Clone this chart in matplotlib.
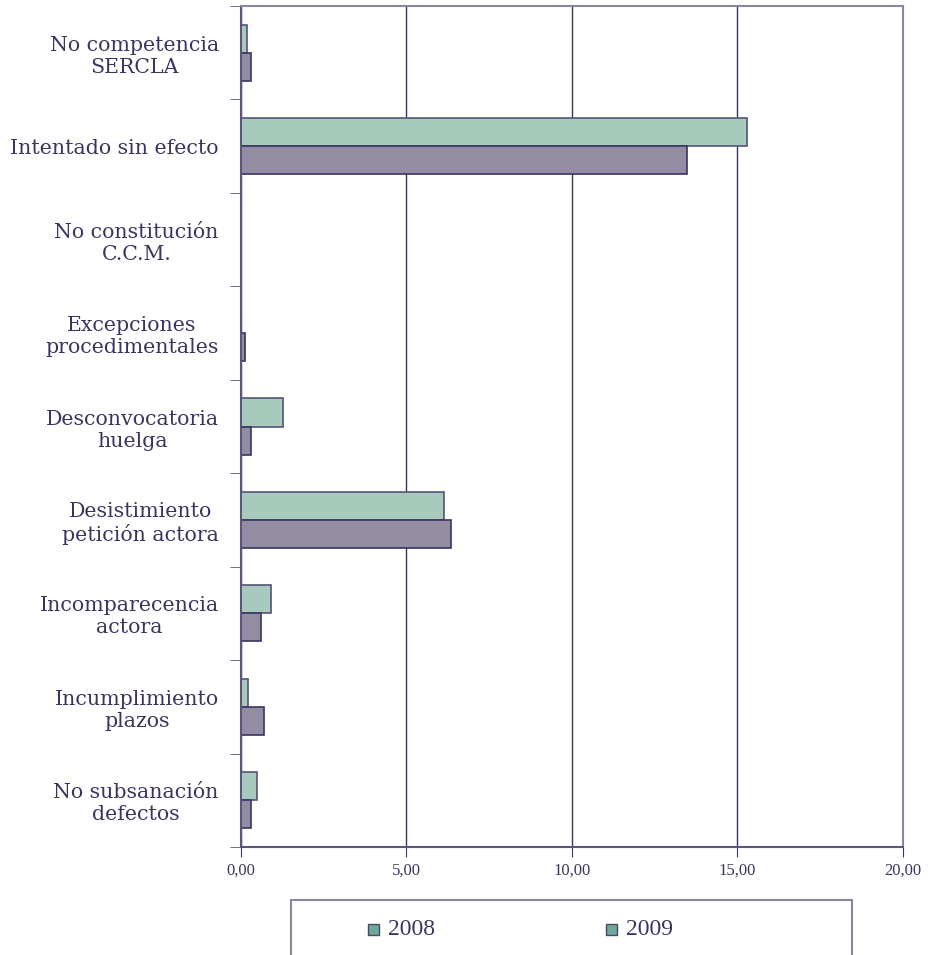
import numpy as np
import matplotlib.pyplot as plt
from matplotlib.patches import Rectangle
from matplotlib.ticker import FuncFormatter

categories = [
    "No competencia\nSERCLA",
    "Intentado sin efecto",
    "No constitución\nC.C.M.",
    "Excepciones\nprocedimentales",
    "Desconvocatoria\nhuelga",
    "Desistimiento\npetición actora",
    "Incomparecencia\nactora",
    "Incumplimiento\nplazos",
    "No subsanación\ndefectos",
]
values_2008 = [0.17, 15.29, 0.0, 0.0, 1.26, 6.15, 0.92, 0.21, 0.47]
values_2009 = [0.29, 13.47, 0.0, 0.12, 0.31, 6.35, 0.60, 0.71, 0.29]
series_labels = ["2008", "2009"]

text_color = "#3a3560"
line_color = "#5a5878"

plt.rcParams['font.family'] = ['Liberation Serif', 'DejaVu Serif']

fig = plt.figure(figsize=(9.29, 9.55), dpi=100)
ax = fig.add_axes([0.2594, 0.1131, 0.9717 - 0.2594, 0.9937 - 0.1131])

y = np.arange(len(categories))
h = 0.3
ax.barh(y - h / 2, values_2008, height=h, color="#a8cabd", edgecolor="#55537a", linewidth=1.2)
ax.barh(y + h / 2, values_2009, height=h, color="#948ca3", edgecolor="#3a3560", linewidth=1.2)

ax.set_xlim(0, 20)
ax.set_ylim(len(categories) - 0.5, -0.5)
ax.set_xticks([0, 5, 10, 15, 20])
ax.xaxis.set_major_formatter(FuncFormatter(lambda v, p: f"{v:.2f}".replace(".", ",")))
ax.tick_params(axis='x', direction='out', length=7, color=text_color, labelsize=12,
               labelcolor=text_color, pad=4)

# category labels at centres, boundary ticks as minor ticks
ax.set_yticks(y)
ax.set_yticklabels(categories, fontsize=14.8, color=text_color, multialignment='center',
                   family='DejaVu Serif')
ax.tick_params(axis='y', which='major', length=0, pad=16)
ax.set_yticks(np.arange(len(categories) + 1) - 0.5, minor=True)
ax.tick_params(axis='y', which='minor', direction='out', length=8, color=line_color)

ax.grid(axis='x', color=text_color, linewidth=1)
ax.set_axisbelow(True)
for s in ax.spines.values():
    s.set_color(line_color)
    s.set_linewidth(1.5)
ax.spines['right'].set_color("#8a86a0")
ax.spines['top'].set_color("#8a86a0")

# legend box, cut off at the bottom edge
fig.patches.append(Rectangle((291 / 929, -0.02), (852 - 291) / 929, 0.02 + (955 - 900) / 955,
                             transform=fig.transFigure, fill=False,
                             edgecolor="#8a86a0", linewidth=1.5))
for x0, lab in zip([368, 606], series_labels):
    fig.patches.append(Rectangle((x0 / 929, 1 - 935 / 955), 11 / 929, 11 / 955,
                                 transform=fig.transFigure, facecolor="#6fa898",
                                 edgecolor="#4a4868", linewidth=1))
    fig.text((x0 + 20) / 929, 1 - 929 / 955, lab, fontsize=17, color=text_color,
             va='center', ha='left')

fig.savefig("out.png", dpi=100)
